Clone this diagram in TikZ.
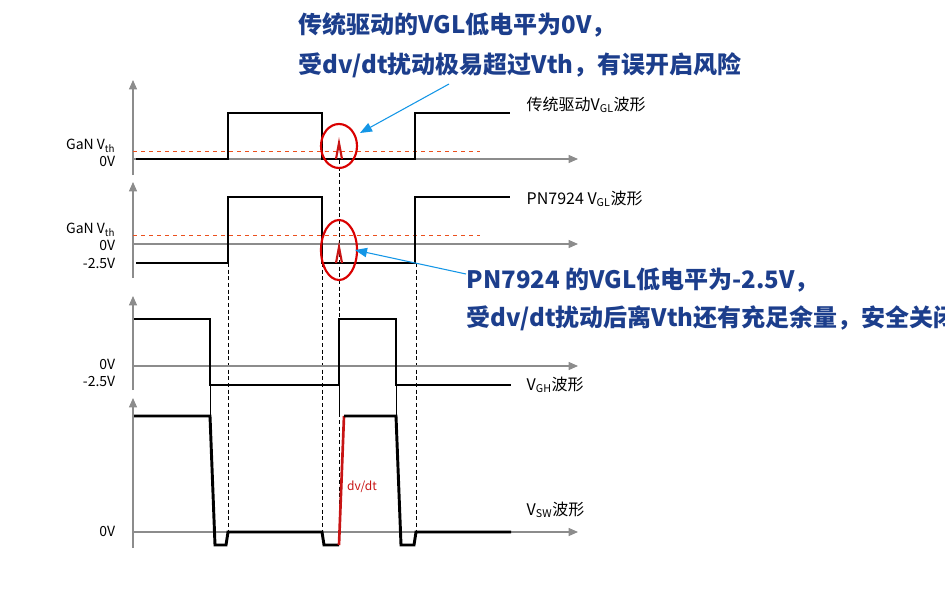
\documentclass[tikz,border=0pt]{standalone}
\usepackage{fontspec}
\setmainfont{Noto Sans CJK SC}
\usetikzlibrary{arrows.meta}
\definecolor{noteblue}{RGB}{28,62,140}
\definecolor{arrblue}{RGB}{20,150,230}
\definecolor{spikered}{RGB}{200,20,20}
\definecolor{vthred}{RGB}{235,80,30}
\begin{document}
\begin{tikzpicture}[x=0.75pt,y=-0.75pt]
        \tikzset{axis/.style={draw=black!45,thick,-{Triangle[length=7pt,width=6pt]}}}
        \tikzset{wave/.style={draw=black,line width=2.2pt,line join=miter}}
        \tikzset{vth/.style={draw=vthred,dashed,line width=0.6pt}}
        \tikzset{guide/.style={draw=black,densely dashed,very thin}}
        \tikzset{lvl/.style={anchor=east,font=\fontsize{10.5}{11}\selectfont}}
        \tikzset{wavename/.style={anchor=west,font=\fontsize{12}{13}\selectfont}}
        \tikzset{note/.style={anchor=west,text=noteblue,font=\bfseries\fontsize{18}{19}\selectfont}}
        \tikzset{callout/.style={draw=arrblue,thick,-{Triangle[length=9pt,width=7pt]}}}
        \tikzset{ring/.style={draw=red!85!black,line width=1.6pt}}
        \useasboundingbox (0,0) rectangle (945,589);
       % guides
         \draw[guide] (339,160) -- (339,545);
         \draw[guide] (228,263) -- (228,532);
         \draw[guide] (322,263) -- (322,532);
         \draw[guide] (416,263) -- (416,532);
         \draw[very thin] (210,385) -- (210,416);
         \draw[very thin] (396,385) -- (396,416);
         \draw[very thin] (339,319) -- (339,416);
       % panel 1
         \draw[axis] (133,175) -- (133,80);
         \draw[axis] (133,159) -- (578,159);
         \draw[vth] (133,151) -- (480,151);
         \draw[wave] (136,159) -- (228,159) -- (228,113) -- (322,113) -- (322,159) -- (415,159) -- (415,113) -- (510,113);
         \draw[spikered,line width=1.6pt] (336,159) -- (339,143) -- (342,159);
         \node[lvl] at (120,146) {GaN V\textsubscript{th}};
         \node[lvl] at (120,161) {0V};
         \node[wavename] at (522,105) {传统驱动V\textsubscript{GL}波形};
       % panel 2
         \draw[axis] (133,278) -- (133,182);
         \draw[axis] (133,244) -- (578,244);
         \draw[vth] (133,235) -- (480,235);
         \draw[wave] (136,263) -- (228,263) -- (228,197) -- (322,197) -- (322,263) -- (415,263) -- (415,197) -- (510,197);
         \draw[spikered,line width=1.6pt] (336,263) -- (339,247) -- (342,263);
         \node[lvl] at (120,230) {GaN V\textsubscript{th}};
         \node[lvl] at (120,245) {0V};
         \node[lvl] at (120,263) {-2.5V};
         \node[wavename] at (522,199) {PN7924 V\textsubscript{GL}波形};
       % panel 3
         \draw[axis] (133,390) -- (133,296);
         \draw[axis] (133,366) -- (578,366);
         \draw[wave] (134,319) -- (210,319) -- (210,385) -- (339,385) -- (339,319) -- (396,319) -- (396,385) -- (511,385);
         \node[lvl] at (120,364) {0V};
         \node[lvl] at (120,381) {-2.5V};
         \node[wavename] at (522,385) {V\textsubscript{GH}波形};
       % panel 4
         \draw[axis] (133,548) -- (133,398);
         \draw[axis] (133,532) -- (578,532);
         \draw[wave] (134,416) -- (210,416) -- (215,545) -- (226,545) -- (228,532) -- (322,532) -- (324,545) -- (339,545);
         \draw[spikered,line width=2pt] (339,545) -- (344,416);
         \draw[wave] (344,416) -- (396,416) -- (401,545) -- (414,545) -- (416,532) -- (511,532);
         \node[text=spikered,font=\fontsize{9}{10}\selectfont] (dvdt) at (362,487) {dv/dt};
         \node[lvl] at (120,531) {0V};
         \node[wavename] at (522,510) {V\textsubscript{SW}波形};
       % notes
         \draw[ring] (339,146) ellipse (18 and 22);
         \draw[ring] (339,250) ellipse (18 and 30);
         \node[note] (n1) at (294,25) {传统驱动的VGL低电平为0V，};
         \node[note] at (294,65) {受dv/dt扰动极易超过Vth，有误开启风险};
         \node[note] (n2) at (462,280) {PN7924 的VGL低电平为-2.5V，};
         \node[note] at (462,318) {受dv/dt扰动后离Vth还有充足余量，安全关闭};
         \coordinate (t1) at (449,84);
         \coordinate (h1) at (360,133);
         \coordinate (t2) at (466,274);
         \coordinate (h2) at (355,250);
         \draw[callout] (t1) -- (h1);
         \draw[callout] (t2) -- (h2);
\end{tikzpicture}
\end{document}
